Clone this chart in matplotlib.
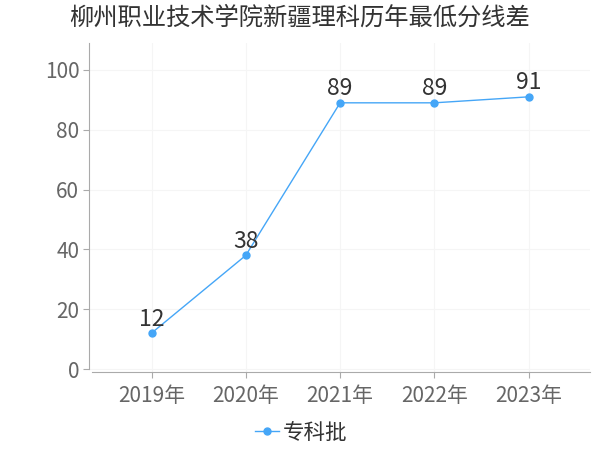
import matplotlib
matplotlib.use("Agg")
import matplotlib.pyplot as plt

plt.rcParams['font.family'] = ['Noto Sans CJK SC', 'DejaVu Sans']

title = "柳州职业技术学院新疆理科历年最低分线差"
years = ["2019年", "2020年", "2021年", "2022年", "2023年"]
values = [12, 38, 89, 89, 91]
series_name = "专科批"
yticks = [0, 20, 40, 60, 80, 100]

color = "#45a6f7"
fig = plt.figure(figsize=(6, 4.5), dpi=100)
ax = fig.add_axes([89 / 600, 1 - 372 / 450, (590 - 89) / 600, (372 - 43) / 450])

x = list(range(len(years)))
ax.plot(x, values, color=color, lw=1.0, marker='o', ms=5, label=series_name, zorder=3)
for xi, v in zip(x, values):
    ax.text(xi, v + 0.8, str(v), ha='center', va='bottom', fontsize=16.5, color='#333333', zorder=4)

ax.set_xlim(-0.663, 4.65)
ax.set_ylim(-1, 109)
ax.set_xticks(x)
ax.set_xticklabels(years)
ax.set_yticks(yticks)
ax.tick_params(axis='both', labelsize=15, colors='#666666', color='#aaaaaa')
ax.tick_params(axis='y', length=4, pad=3)
ax.tick_params(axis='x', length=4, pad=5)
ax.grid(True, color='#f5f5f5', lw=0.8, zorder=0)
for s in ['top', 'right']:
    ax.spines[s].set_visible(False)
for s in ['left', 'bottom']:
    ax.spines[s].set_color('#aaaaaa')
ax.spines['left'].set_bounds(0, 109)
ax.spines['bottom'].set_bounds(-0.63, 4.65)

fig.suptitle(title, fontsize=17.5, color='#333333', y=0.99)
leg = fig.legend(loc='center', bbox_to_anchor=(0.502, 0.038), frameon=False, fontsize=15.5,
                 handlelength=1.1, handletextpad=0.15)
for t in leg.get_texts():
    t.set_color('#333333')

fig.savefig("out.png", dpi=100)
